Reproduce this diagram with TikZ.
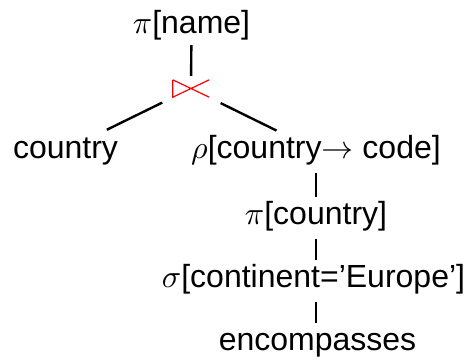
\documentclass[tikz,border=0pt]{standalone}
\usepackage{graphicx}
\usepackage{fontspec}
\setmainfont{Liberation Sans}
\usetikzlibrary{calc}
\newcommand\mth[1]{\scalebox{3.2}{\fontsize{10}{12}\selectfont$#1$}}
\begin{document}
\begin{tikzpicture}[x=1pt,y=-1pt,
  lbl/.style={inner sep=0pt, text height=23pt, text depth=7pt, anchor=base, font=\fontsize{32}{38}\selectfont},
  vedge/.style={line width=2.4pt, shorten <=8pt, shorten >=4pt},
  dedge/.style={line width=2.4pt},
  joinsym/.style={minimum width=36pt, minimum height=17pt, inner sep=0pt},
  joinline/.style={red, line width=1.2pt}]
\useasboundingbox (0,0) rectangle (473,360);
\node[lbl] (name) at (191.5,33) {\mth{\pi}[name]};
\node[joinsym] (join) at (191,88.5) {};
\node[lbl] (country) at (65.5,158) {country};
\node[lbl] (rho) at (316,158) {\mth{\rho}[country\mth{\rightarrow} code]};
\node[lbl] (pic) at (316,224) {\mth{\pi}[country]};
\node[lbl] (sig) at (313.5,287) {\mth{\sigma}[continent='Europe']};
\node[lbl] (enc) at (317.5,350) {encompasses};
\draw[joinline] (join.north west) -- (join.south west) -- (join.north east)
  (join.north west) -- (join.south east);
\draw[dedge] ($(join)!32pt!(country)$) -- ($(country)!46pt!(join)$);
\draw[dedge] ($(join)!33pt!(rho)$) -- ($(rho)!44pt!(join)$);
\draw[vedge, shorten <=5pt] (name) -- (join);
\draw[vedge] (rho) -- (pic);
\draw[vedge] (pic.south) -- (pic.south |- sig.north);
\draw[vedge] (pic.south |- sig.south) -- (pic.south |- enc.north);
\end{tikzpicture}
\end{document}
